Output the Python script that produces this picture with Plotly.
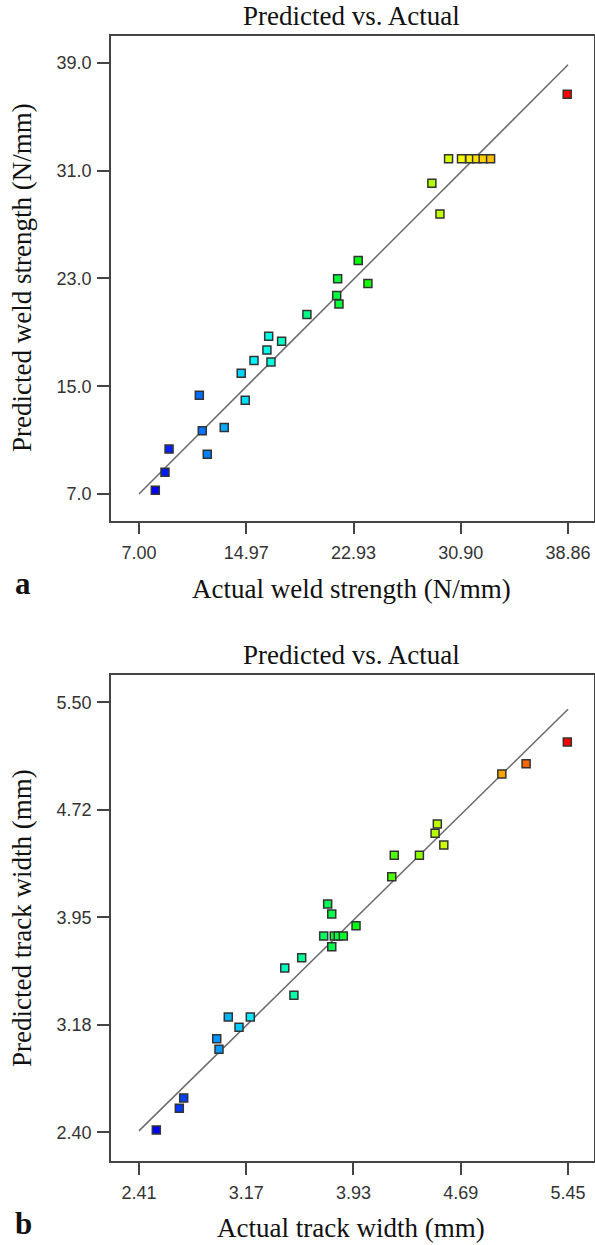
import plotly.graph_objects as go

# ---- data: panel a (weld strength, N/mm) ----
actual_a = [8.21, 8.93, 9.23, 11.48, 11.70, 12.07, 13.33, 14.59, 14.89, 15.54,
            16.50, 16.63, 16.80, 17.59, 19.47, 21.68, 21.75, 21.85, 23.28, 24.00,
            28.75, 29.35, 29.99, 30.95, 31.57, 32.07, 32.56, 33.11, 38.80]
pred_a = [7.27, 8.61, 10.33, 14.33, 11.69, 9.94, 11.94, 15.96, 13.96, 16.90,
          17.69, 18.70, 16.80, 18.33, 20.33, 21.74, 22.98, 21.10, 24.33, 22.63,
          30.06, 27.79, 31.89, 31.89, 31.89, 31.89, 31.89, 31.89, 36.68]
xticks_a = [7.00, 14.965, 22.93, 30.895, 38.86]
xtick_text_a = ["7.00", "14.97", "22.93", "30.90", "38.86"]
yticks_a = [7.0, 15.0, 23.0, 31.0, 39.0]
ytick_text_a = ["7.0", "15.0", "23.0", "31.0", "39.0"]
line_a = [7.0, 38.86]

# ---- data: panel b (track width, mm) ----
actual_b = [2.533, 2.696, 2.727, 2.961, 2.977, 3.043, 3.119, 3.199, 3.443, 3.508,
            3.563, 3.719, 3.747, 3.776, 3.776, 3.794, 3.822, 3.858, 3.948, 4.201,
            4.219, 4.397, 4.508, 4.524, 4.570, 4.981, 5.153, 5.445]
pred_b = [2.417, 2.573, 2.647, 3.075, 2.998, 3.231, 3.157, 3.231, 3.585, 3.388,
          3.659, 3.815, 4.046, 3.974, 3.738, 3.815, 3.815, 3.815, 3.889, 4.243,
          4.397, 4.397, 4.556, 4.623, 4.471, 4.983, 5.058, 5.214]
xticks_b = [2.41, 3.17, 3.93, 4.69, 5.45]
xtick_text_b = ["2.41", "3.17", "3.93", "4.69", "5.45"]
yticks_b = [2.40, 3.175, 3.95, 4.725, 5.50]
ytick_text_b = ["2.40", "3.18", "3.95", "4.72", "5.50"]
line_b = [2.41, 5.45]

W, H = 595, 1245
rainbow = [[0, "#0000ff"], [0.25, "#00ffff"], [0.5, "#00ff00"], [0.75, "#ffff00"], [1, "#ff0000"]]

fig = go.Figure()

def add_panel(actual, pred, line, xa, ya):
    fig.add_trace(go.Scatter(x=line, y=line, mode="lines",
                             line=dict(color="#6a6a6a", width=1.5),
                             xaxis=xa, yaxis=ya, showlegend=False, hoverinfo="skip"))
    fig.add_trace(go.Scatter(x=actual, y=pred, mode="markers",
                             marker=dict(symbol="square", size=8, color=actual,
                                         colorscale=rainbow, cmin=min(actual), cmax=max(actual),
                                         line=dict(color="#333333", width=1.5)),
                             xaxis=xa, yaxis=ya, showlegend=False))

add_panel(actual_a, pred_a, line_a, "x", "y")
add_panel(actual_b, pred_b, line_b, "x2", "y2")

def px(x):
    return x / W

def py(y):
    return 1 - y / H

tickfont = dict(family="Liberation Sans", size=18, color="#333333")
common_axis = dict(showline=True, linecolor="#444444", linewidth=1.5, mirror=True,
                   ticks="outside", ticklen=12, tickwidth=1.5, tickcolor="#444444",
                   showgrid=False, zeroline=False, tickfont=tickfont, tickmode="array")

dom_x = [px(111), px(594)]
fig.update_layout(
    width=W, height=H, margin=dict(l=0, r=0, t=0, b=0),
    plot_bgcolor="white", paper_bgcolor="white",
    xaxis=dict(domain=dom_x, range=[4.92, 40.79], anchor="y",
               tickvals=xticks_a, ticktext=xtick_text_a, ticklabelstandoff=3, **common_axis),
    yaxis=dict(domain=[py(520.5), py(36)], range=[5.03, 41.0], anchor="x",
               tickvals=yticks_a, ticktext=ytick_text_a, ticklabelstandoff=2, **common_axis),
    xaxis2=dict(domain=dom_x, range=[2.212, 5.634], anchor="y2",
                tickvals=xticks_b, ticktext=xtick_text_b, ticklabelstandoff=3, **common_axis),
    yaxis2=dict(domain=[py(1161), py(675)], range=[2.193, 5.697], anchor="x2",
                tickvals=yticks_b, ticktext=ytick_text_b, ticklabelstandoff=2, **common_axis),
)

serif = "Liberation Serif"
ann = []
def text(t, x, y, size, rot=0, bold=False, fam=serif, yanchor="middle"):
    ann.append(dict(text=("<b>%s</b>" % t) if bold else t, x=px(x), y=py(y),
                    xref="paper", yref="paper", showarrow=False,
                    xanchor="center", yanchor=yanchor, textangle=rot,
                    font=dict(family=fam, size=size, color="#111111")))

text("Predicted vs. Actual", 351, 16, 27)
text("Actual weld strength (N/mm)", 351, 589, 27)
text("Predicted weld strength (N/mm)", 22, 278, 27, rot=-90)
text("a", 23, 603, 31, bold=True, yanchor="bottom")

text("Predicted vs. Actual", 351, 655, 27)
text("Actual track width (mm)", 351, 1228, 27)
text("Predicted track width (mm)", 22, 918, 27, rot=-90)
text("b", 23, 1243, 31, bold=True, yanchor="bottom")

fig.update_layout(annotations=ann)
fig.write_html("out.html")
